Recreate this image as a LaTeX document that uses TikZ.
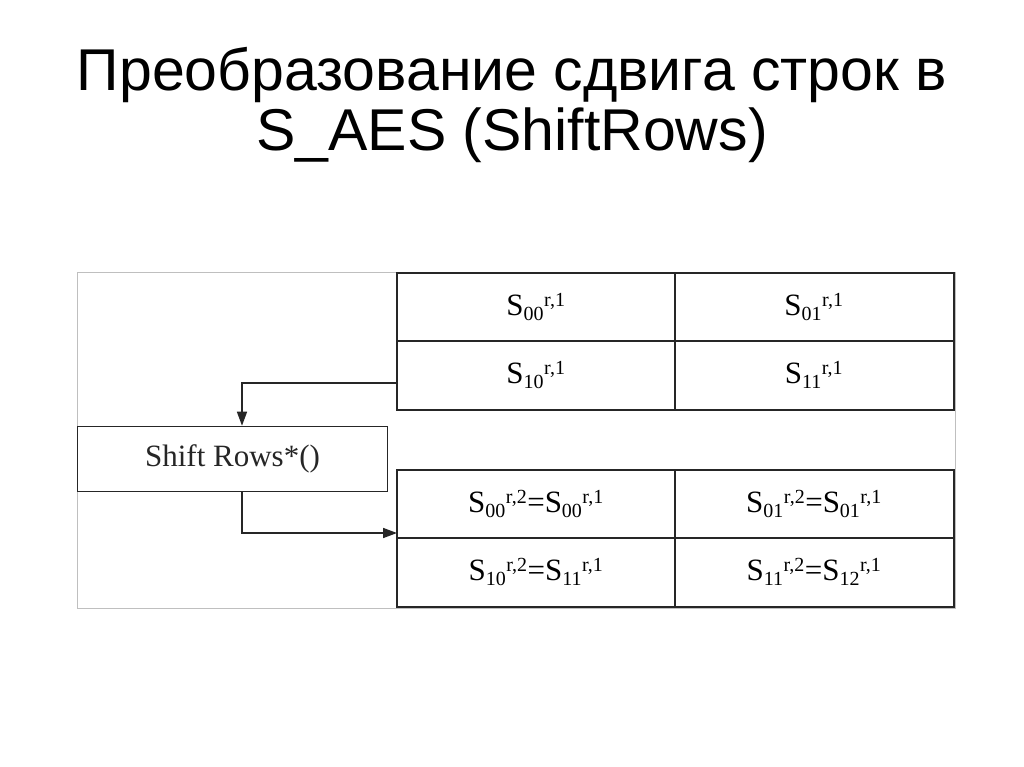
\documentclass[tikz,border=0pt]{standalone}
\usepackage{fontspec}
\setmainfont{Liberation Serif}
\newfontfamily\titlefont{Liberation Sans}
\usetikzlibrary{arrows.meta}
\begin{document}
\begin{tikzpicture}[x=1pt,y=-1pt,
  cell/.style={font=\fontsize{31}{34}\selectfont},
  ln/.style={line width=1.6pt,black!85},
  arr/.style={ln,-{Triangle[length=14pt,width=10pt]}}]
\useasboundingbox (0,0) rectangle (1024,767);
\fill[white] (0,0) rectangle (1024,767);
\node[font=\titlefont\fontsize{59}{60}\selectfont,align=center] (title) at (512,105) {Преобразование сдвига строк в\\S\_AES (ShiftRows)};
\draw[black!25,line width=1pt] (77,272) rectangle (955,608);
% top table
\draw[ln] (397,273) rectangle (954,410);
\draw[ln] (397,341) -- (954,341);
\draw[ln] (675,273) -- (675,410);
% bottom table
\draw[ln] (397,470) rectangle (954,607);
\draw[ln] (397,538) -- (954,538);
\draw[ln] (675,470) -- (675,607);
\def\s#1#2{S\textsubscript{\fontsize{20}{20}\selectfont #1}\textsuperscript{\fontsize{20}{20}\selectfont r,#2}}
\node[cell] (a00) at (536,307) {\s{00}{1}};
\node[cell] (a01) at (814,307) {\s{01}{1}};
\node[cell] (a10) at (536,375) {\s{10}{1}};
\node[cell] (a11) at (814,375) {\s{11}{1}};
\node[cell] (b00) at (536,504) {\s{00}{2}=\s{00}{1}};
\node[cell] (b01) at (814,504) {\s{01}{2}=\s{01}{1}};
\node[cell] (b10) at (536,572) {\s{10}{2}=\s{11}{1}};
\node[cell] (b11) at (814,572) {\s{11}{2}=\s{12}{1}};
\node[draw,ln,minimum width=310pt,minimum height=65pt,cell,inner sep=0pt] (box) at (232.5,459) {Shift Rows*()};
\coordinate (src) at (398,383);
\coordinate (dst) at (397,533);
\draw[arr] (src) -| (box.north -| 242,0);
\draw[arr] (box.south -| 242,0) |- (dst);
\end{tikzpicture}
\end{document}
